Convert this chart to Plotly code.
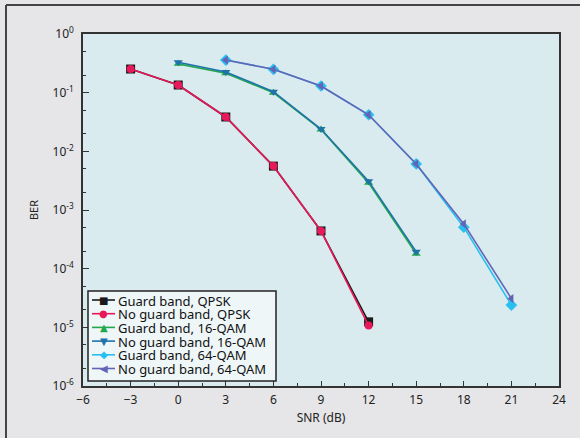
import plotly.graph_objects as go

snr_qpsk = [-3, 0, 3, 6, 9, 12]
snr_16 = [0, 3, 6, 9, 12, 15]
snr_64 = [3, 6, 9, 12, 15, 18, 21]

ber_guard_qpsk = [0.253, 0.135, 0.0385, 0.0056, 4.4e-4, 1.24e-5]
ber_noguard_qpsk = [0.253, 0.135, 0.0385, 0.0056, 4.4e-4, 1.07e-5]
ber_guard_16 = [0.31, 0.215, 0.100, 0.0235, 0.0029, 1.8e-4]
ber_noguard_16 = [0.33, 0.225, 0.104, 0.0240, 0.0031, 1.95e-4]
ber_guard_64 = [0.36, 0.25, 0.13, 0.042, 0.0061, 5.1e-4, 2.4e-5]
ber_noguard_64 = [0.36, 0.25, 0.13, 0.042, 0.0061, 5.8e-4, 3.1e-5]

names = ["Guard band, QPSK", "No guard band, QPSK", "Guard band, 16-QAM",
         "No guard band, 16-QAM", "Guard band, 64-QAM", "No guard band, 64-QAM"]
xs = [snr_qpsk, snr_qpsk, snr_16, snr_16, snr_64, snr_64]
ys = [ber_guard_qpsk, ber_noguard_qpsk, ber_guard_16, ber_noguard_16, ber_guard_64, ber_noguard_64]
colors = ["#1a1a1a", "#e8195a", "#22a84a", "#1f72aa", "#28c0f0", "#6464b6"]
symbols = ["square", "circle", "triangle-up", "triangle-down", "diamond", "triangle-left"]
sizes = [9, 8, 8, 8, 9, 8]
legend_glyphs = ["■", "●", "▲", "▼", "◆", "◀"]

x_tickvals = [-6, -3, 0, 3, 6, 9, 12, 15, 18, 21, 24]
y_tickvals = [1, 0.1, 0.01, 1e-3, 1e-4, 1e-5, 1e-6]
y_ticktext = ["10<sup>0</sup>", "10<sup>-1</sup>", "10<sup>-2</sup>", "10<sup>-3</sup>",
              "10<sup>-4</sup>", "10<sup>-5</sup>", "10<sup>-6</sup>"]

fig = go.Figure()
for x, y, n, c, s, sz in zip(xs, ys, names, colors, symbols, sizes):
    fig.add_trace(go.Scatter(
        x=x, y=y, name=n, mode="lines+markers",
        line=dict(color=c, width=1.6),
        marker=dict(symbol=s, size=sz, color=c),
    ))

font = "Noto Sans, Open Sans, sans-serif"

# custom compact legend (layout only)
W, H, L, T = 476.0, 352.0, 83.0, 34.0
def px(xp):
    return (xp - L) / W
def py(yp):
    return (T + H - yp) / H

shapes = [
    dict(type="rect", xref="paper", yref="paper", x0=px(88), x1=px(276), y0=py(381), y1=py(291),
         fillcolor="#eef6f8", line=dict(color="#222", width=1.5), layer="above"),
    dict(type="line", xref="paper", yref="paper", x0=px(6), x1=px(600), y0=py(5), y1=py(5),
         line=dict(color="#444", width=2)),
    dict(type="line", xref="paper", yref="paper", x0=px(6), x1=px(6), y0=py(5), y1=py(460),
         line=dict(color="#444", width=2)),
]
annotations = []
for i, (n, c, g) in enumerate(zip(names, colors, legend_glyphs)):
    yc = 300 + 13.7 * i
    shapes.append(dict(type="line", xref="paper", yref="paper", x0=px(92), x1=px(115),
                       y0=py(yc), y1=py(yc), line=dict(color=c, width=1.6), layer="above"))
    annotations.append(dict(xref="paper", yref="paper", x=px(103.5), y=py(yc), text=g,
                            showarrow=False, xanchor="center", yanchor="middle",
                            font=dict(family="DejaVu Sans", size=10, color=c)))
    annotations.append(dict(xref="paper", yref="paper", x=px(116), y=py(yc + 0.5), text=n,
                            showarrow=False, xanchor="left", yanchor="middle",
                            font=dict(family=font, size=13, color="#111")))

fig.update_layout(
    width=580, height=438,
    margin=dict(l=83, r=21, t=34, b=52, autoexpand=False),
    paper_bgcolor="#e6e6e8",
    plot_bgcolor="#d9ebee",
    font=dict(family=font, size=12, color="#222"),
    showlegend=False,
    xaxis=dict(
        range=[-6, 24], tickvals=x_tickvals, ticks="inside", ticklen=5,
        tickcolor="#333", showgrid=False, zeroline=False, automargin=False,
        showline=True, linecolor="#333", linewidth=1.5, mirror=True,
        minor=dict(dtick=1.5, ticks="inside", ticklen=3, tickcolor="#333", showgrid=False),
        title=dict(text="SNR (dB)", font=dict(size=12), standoff=6),
        tickfont=dict(size=12), ticklabelstandoff=2,
    ),
    yaxis=dict(
        type="log", range=[-6, 0], tickvals=y_tickvals, ticktext=y_ticktext,
        ticks="inside", ticklen=6, tickcolor="#333", showgrid=False, zeroline=False,
        automargin=False,
        showline=True, linecolor="#333", linewidth=1.5, mirror=True,
        minor=dict(ticks="inside", ticklen=3, tickcolor="#333", showgrid=False),
        title=dict(text="BER", font=dict(size=11), standoff=12),
        tickfont=dict(size=12), ticklabelstandoff=5,
    ),
    shapes=shapes,
    annotations=annotations,
)

fig.write_html("out.html", config={"displayModeBar": False},
               post_script="document.body.style.margin='0';")
